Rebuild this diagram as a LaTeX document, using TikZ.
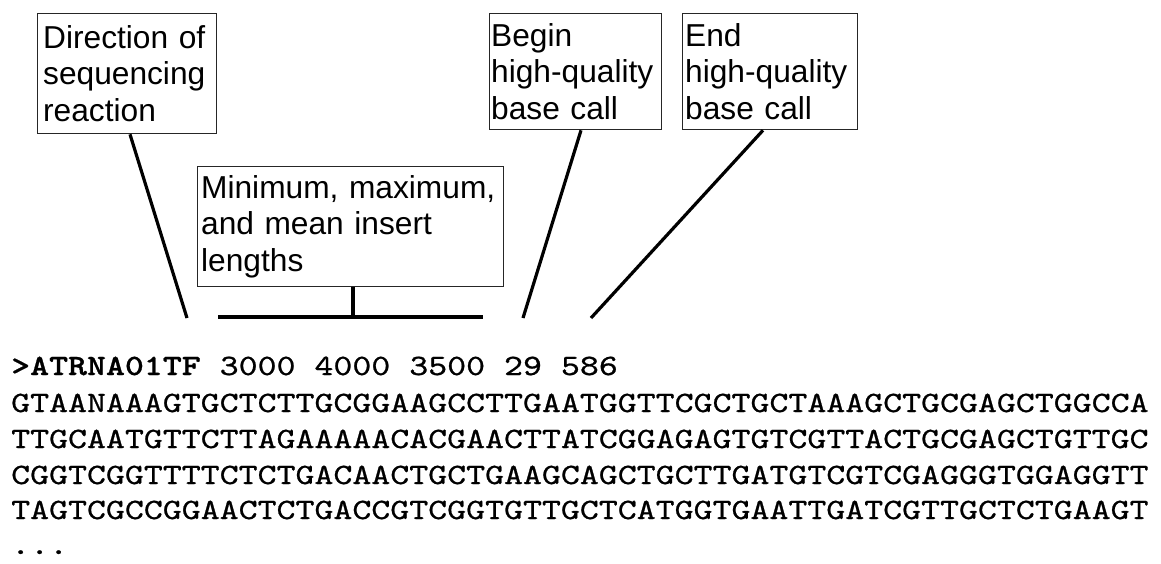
\documentclass[tikz,border=0pt]{standalone}
\usepackage{fontspec}
\setmainfont{Liberation Sans}
% Courier-like typewriter face for the sequence record
\newfontfamily\seqfont{lmmono10-regular.otf}[BoldFont=lmmonolt10-bold.otf, FakeStretch=1.224, FakeBold=0.8]

\begin{document}
\begin{tikzpicture}[x=1pt, y=-1pt,
  note/.style={draw=black!85, line width=1.3pt, anchor=north west, align=left,
    inner ysep=0pt, font=\fontsize{31.7}{36.3}\selectfont},
  lead/.style={line width=3.2pt, black},
  seq/.style={anchor=base west, inner sep=0pt, font=\seqfont\fontsize{29.5}{35}\selectfont}]

\fill[white] (0,0) rectangle (1161,563);
\useasboundingbox (0,0) rectangle (1161,563);

% label boxes
\node[note, inner xsep=5.5pt, text width=168pt, minimum height=120pt] (dir) at (37,13)
  {Direction of\\sequencing\\reaction};
\node[note, inner xsep=1.5pt, text width=169pt, minimum height=116pt] (beg) at (489,13)
  {Begin\\high-quality\\base call};
\node[note, inner xsep=2.5pt, text width=170pt, minimum height=116pt] (endq) at (682,13)
  {End\\high-quality\\base call};
\node[note, inner xsep=3.5pt, text width=299pt, minimum height=120pt] (ins) at (197,166)
  {Minimum, maximum,\\and mean insert\\lengths};

% sequence record
\node[seq] (hdr) at (11,375) {{\bfseries >ATRNA01TF} 3000 4000 3500 29 586};
\node[seq] (s1) at (11,412) {GTAANAAAGTGCTCTTGCGGAAGCCTTGAATGGTTCGCTGCTAAAGCTGCGAGCTGGCCA};
\node[seq] (s2) at (11,448) {TTGCAATGTTCTTAGAAAAACACGAACTTATCGGAGAGTGTCGTTACTGCGAGCTGTTGC};
\node[seq] (s3) at (11,484) {CGGTCGGTTTTCTCTGACAACTGCTGAAGCAGCTGCTTGATGTCGTCGAGGGTGGAGGTT};
\node[seq] (s4) at (11,519) {TAGTCGCCGGAACTCTGACCGTCGGTGTTGCTCATGGTGAATTGATCGTTGCTCTGAAGT};
\node[seq] (dots) at (11,554) {...};

% pointer ends just above the record
\coordinate (dirtip) at (187,318);
\coordinate (begtip) at (523,318);
\coordinate (endtip) at (591,318);
\coordinate (barL) at (218,317);
\coordinate (barR) at (483,317);
\coordinate (barmid) at (353,317);

\draw[lead] ([xshift=93pt]dir.south west) -- (dirtip);
\draw[lead] ([xshift=92pt]beg.south west) -- (begtip);
\draw[lead] ([xshift=81pt]endq.south west) -- (endtip);
\draw[lead] (barL) -- (barR);
\draw[lead] (barmid |- ins.south) -- (barmid);
\end{tikzpicture}
\end{document}
